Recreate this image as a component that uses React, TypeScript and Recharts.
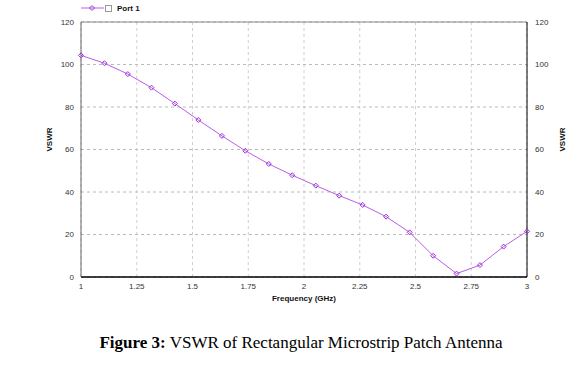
import { CartesianGrid, Line, LineChart, ReferenceLine, XAxis, YAxis } from 'recharts'

const freqs = [1, 1.105, 1.21, 1.316, 1.421, 1.526, 1.632, 1.737, 1.842, 1.947, 2.053, 2.158, 2.263, 2.368, 2.474, 2.579, 2.684, 2.789, 2.895, 3]
const vswr = [104.3, 100.6, 95.5, 89.1, 81.6, 73.9, 66.4, 59.4, 53.2, 47.9, 43.0, 38.3, 33.9, 28.4, 21.0, 10.0, 1.6, 5.6, 14.3, 21.5]
const xTicks = [1, 1.25, 1.5, 1.75, 2, 2.25, 2.5, 2.75, 3]
const yTicks = [0, 20, 40, 60, 80, 100, 120]
const seriesName = 'Port 1'

const data = freqs.map((f, i) => ({ f, v: vswr[i] }))

const LINE = '#b95ee8'
const DOT = '#9a2fd8'
const FONT = 'Arial, "Liberation Sans", sans-serif'

const Diamond = (props: any) => {
  const { cx, cy } = props
  if (cx == null || cy == null) return null
  return (
    <polygon
      points={`${cx},${cy - 2.5} ${cx + 2.5},${cy} ${cx},${cy + 2.5} ${cx - 2.5},${cy}`}
      fill="none"
      stroke={DOT}
      strokeWidth={1}
    />
  )
}

const tickStyle = { fontSize: 8, fill: '#333', fontFamily: FONT }
const labelStyle = { fontSize: 8, fontWeight: 'bold', fill: '#111', fontFamily: FONT, textAnchor: 'middle' }

export default function App() {
  return (
    <div style={{ position: 'absolute', left: 0, top: 0, width: 584, height: 378, background: '#fff' }}>
      <div style={{ position: 'absolute', left: 81, top: 2, height: 12, display: 'flex', alignItems: 'center' }}>
        <svg width={23} height={12}>
          <line x1={0} y1={6} x2={23} y2={6} stroke={LINE} strokeWidth={1} />
          <polygon points="11,3.5 13.5,6 11,8.5 8.5,6" fill="none" stroke={DOT} />
        </svg>
        <div style={{ width: 7, height: 7, border: '1px solid #999', marginLeft: 1, boxSizing: 'border-box' }} />
        <span style={{ fontFamily: FONT, fontSize: 8, fontWeight: 'bold', marginLeft: 5, color: '#111' }}>{seriesName}</span>
      </div>
      <LineChart width={584} height={310} data={data} margin={{ top: 22, right: 0, left: 0, bottom: 0 }}>
        <CartesianGrid yAxisId="l" horizontal={false} stroke="#d8c8d8" strokeDasharray="3 3" />
        <CartesianGrid yAxisId="l" vertical={false} stroke="#b4c0b4" strokeDasharray="3 3" />
        <ReferenceLine y={120} yAxisId="l" stroke="#888" strokeWidth={1} />
        <XAxis
          dataKey="f"
          type="number"
          domain={[1, 3]}
          ticks={xTicks}
          height={33}
          tickLine={false}
          tickSize={3}
          tickMargin={3}
          axisLine={{ stroke: '#000', strokeWidth: 1.5 }}
          tick={tickStyle}
          label={{ value: 'Frequency (GHz)', position: 'insideBottom', offset: 9, style: { ...labelStyle } }}
        />
        <YAxis
          yAxisId="l"
          domain={[0, 120]}
          ticks={yTicks}
          width={81}
          tickLine={false}
          tickSize={4}
          tickMargin={3}
          axisLine={{ stroke: '#666' }}
          tick={tickStyle}
          label={{ value: 'VSWR', angle: -90, position: 'insideLeft', offset: 49, dy: -10, style: labelStyle }}
        />
        <YAxis
          yAxisId="r"
          orientation="right"
          domain={[0, 120]}
          ticks={yTicks}
          width={57}
          tickLine={false}
          tickSize={4}
          tickMargin={4}
          axisLine={{ stroke: '#000' }}
          tick={tickStyle}
          label={{ value: 'VSWR', angle: -90, position: 'insideRight', offset: 22, dy: -10, style: labelStyle }}
        />
        <Line
          yAxisId="r"
          type="linear"
          dataKey="v"
          stroke="none"
          dot={false}
          activeDot={false}
          legendType="none"
          isAnimationActive={false}
        />
        <Line
          yAxisId="l"
          type="linear"
          dataKey="v"
          name={seriesName}
          stroke={LINE}
          strokeWidth={1}
          dot={<Diamond />}
          activeDot={false}
          isAnimationActive={false}
        />
      </LineChart>
      <div
        style={{
          position: 'absolute',
          top: 333,
          left: 0,
          width: 584,
          paddingLeft: 18,
          boxSizing: 'border-box',
          textAlign: 'center',
          fontFamily: '"Liberation Serif", "Times New Roman", serif',
          fontSize: 17,
          color: '#000',
          lineHeight: '20px'
        }}
      >
        <b>Figure 3:</b> VSWR of Rectangular Microstrip Patch Antenna
      </div>
    </div>
  )
}
